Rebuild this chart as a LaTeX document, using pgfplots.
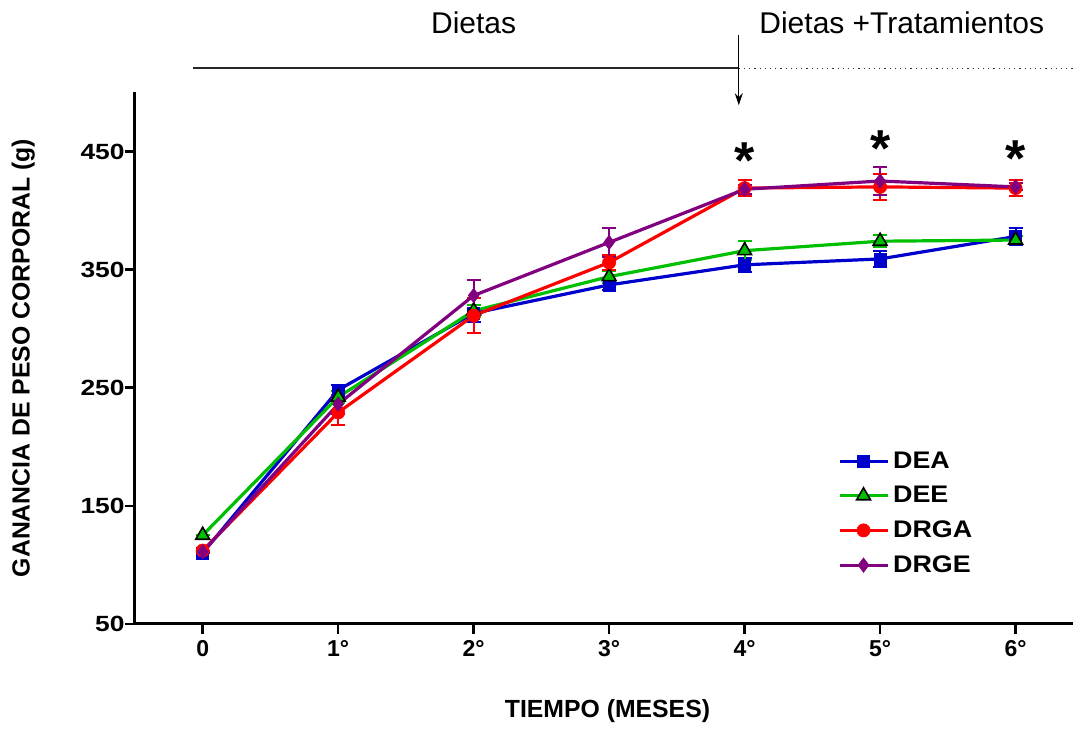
\documentclass[border=0pt]{standalone}
\usepackage{fontspec}
\setmainfont{Liberation Sans}
\newfontfamily\widefont[FakeStretch=1.2]{Liberation Sans}
\newfontfamily\legfont[FakeStretch=1.12]{Liberation Sans}
\usepackage{pgfplots}
\pgfplotsset{compat=1.18}
\usetikzlibrary{arrows.meta}
\definecolor{cDEA}{RGB}{0,0,204}
\definecolor{cDEE}{RGB}{0,190,0}
\definecolor{cDRGA}{RGB}{255,0,0}
\definecolor{cDRGE}{RGB}{128,0,128}

\begin{document}
\begin{tikzpicture}
\begin{axis}[
  scale only axis, width=469pt, height=265.8pt,
  xmin=-0.5, xmax=6.42, ymin=50, ymax=500,
  axis x line*=bottom, axis y line*=left,
  axis line style={line width=1.5pt, -},
  clip=false,
  xtick={0,...,6}, xticklabels={0,1°,2°,3°,4°,5°,6°},
  ytick={50,150,250,350,450},
  tick align=outside, major tick length=5pt,
  tick style={line width=1.2pt, black},
  /pgf/number format/assume math mode=true,
  xticklabel style={font=\bfseries\fontsize{11.5}{12}\selectfont},
  yticklabel style={font=\widefont\bfseries\fontsize{11}{12}\selectfont, inner xsep=0pt},
  xlabel={TIEMPO (MESES)},
  ylabel={GANANCIA DE PESO CORPORAL (g)},
  xlabel style={font=\bfseries\fontsize{12.4}{13}\selectfont, at={(axis description cs:0.504,-0.164)}, anchor=center},
  ylabel style={font=\bfseries\fontsize{12.4}{13}\selectfont, at={(axis description cs:-0.119,0.5)}, anchor=center},
  legend style={draw=none, fill=none, at={(axis description cs:0.743,0.34)}, anchor=north west,
    font=\legfont\bfseries\fontsize{12}{13}\selectfont, row sep=3.5pt},
  legend cell align=left,
  legend image code/.code={\draw[mark repeat=2,mark phase=2] plot coordinates {(0pt,0pt) (12pt,0pt) (24pt,0pt)};},
  error bars/y dir=both, error bars/y explicit,
  error bars/error bar style={line width=1pt},
  error bars/error mark options={rotate=90, line width=1pt, mark size=3.5pt},
]
\addplot[cDEA, line width=1.6pt, mark=square*, mark size=3pt, mark options={solid, line width=0.3pt}]
  coordinates {(0,110) +- (0,0) (1,248) +- (0,4) (2,313) +- (0,7) (3,337) +- (0,4)
               (4,354) +- (0,6) (5,359) +- (0,7) (6,378) +- (0,7)};
\addlegendentry{DEA}
\addplot[cDEE, line width=1.6pt, mark=triangle*, mark size=4pt, mark options={solid, fill=cDEE, draw=black, line width=0.8pt}]
  coordinates {(0,125) +- (0,0) (1,242) +- (0,5) (2,315) +- (0,5) (3,344) +- (0,5)
               (4,366) +- (0,8) (5,374) +- (0,5) (6,375) +- (0,3)};
\addlegendentry{DEE}
\addplot[cDRGA, line width=1.6pt, mark=*, mark size=3.3pt, mark options={solid, line width=0.3pt}]
  coordinates {(0,112) +- (0,0) (1,229) +- (0,11) (2,311) +- (0,15) (3,356) +- (0,6)
               (4,419) +- (0,7) (5,420) +- (0,11) (6,419) +- (0,7)};
\addlegendentry{DRGA}
\addplot[cDRGE, line width=1.6pt, mark=diamond*, mark size=3.6pt, mark options={solid, line width=0.3pt}]
  coordinates {(0,111) +- (0,0) (1,236) +- (0,8) (2,328) +- (0,13) (3,373) +- (0,12)
               (4,418) +- (0,4) (5,425) +- (0,12) (6,420) +- (0,3)};
\addlegendentry{DRGE}
% significance stars
\addplot[draw=none, mark=*, mark size=0pt, forget plot, nodes near coords={*},
  nodes near coords style={font=\bfseries\fontsize{26}{26}\selectfont, anchor=center, inner sep=0pt, black}]
  coordinates {(4,442) (5,452) (6,444)};
% period annotations above the axis
\draw[line width=0.7pt, black!85] (axis cs:-0.074,520.6) -- (axis cs:3.957,520.6);
\draw[line width=0.6pt, black!80, dotted] (axis cs:3.957,520.6) -- (axis cs:6.42,520.6);
\draw[line width=0.6pt, -{Stealth[length=6pt, width=4pt]}] (axis cs:3.957,548.6) -- (axis cs:3.957,489.2);
\node[font=\fontsize{15}{15}\selectfont] at (axis cs:2,559.2) {Dietas};
\node[font=\fontsize{15}{15}\selectfont] at (axis cs:5.16,559.2) {Dietas +Tratamientos};
\path (axis cs:-1.496,-35) rectangle (axis cs:6.42,578.3);
\end{axis}
\end{tikzpicture}
\end{document}
